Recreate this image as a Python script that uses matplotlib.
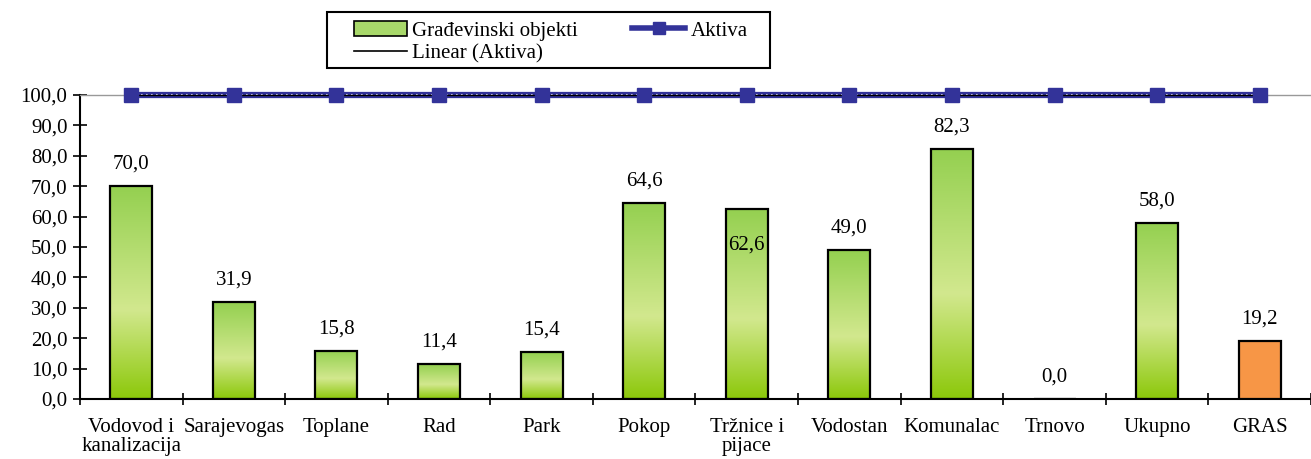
import matplotlib
matplotlib.use("Agg")
import matplotlib.pyplot as plt
import numpy as np
from matplotlib.colors import LinearSegmentedColormap
from matplotlib.patches import Patch, Rectangle
from matplotlib.lines import Line2D

categories = ["Vodovod i\nkanalizacija", "Sarajevogas", "Toplane", "Rad", "Park", "Pokop",
              "Tržnice i\npijace", "Vodostan", "Komunalac", "Trnovo", "Ukupno", "GRAS"]
gradjevinski = [70.0, 31.9, 15.8, 11.4, 15.4, 64.6, 62.6, 49.0, 82.3, 0.0, 58.0, 19.2]
aktiva = [100.0] * 12
yticks = [0, 10, 20, 30, 40, 50, 60, 70, 80, 90, 100]

FS = 15
plt.rcParams['font.family'] = ['Liberation Serif', 'DejaVu Serif']
fig = plt.figure(figsize=(13.11, 4.59), dpi=100)
ax = fig.add_axes([80/1311, 1-399/459, 1-80/1311, (399-95)/459])

x = np.arange(len(categories))
width = 0.41
grad = LinearSegmentedColormap.from_list("g", [(0, "#8CC80A"), (0.42, "#D2E88E"), (1.0, "#94D050")])
gradarr = np.linspace(0, 1, 256).reshape(-1, 1)

bars = ax.bar(x, gradjevinski, width, color="none", edgecolor="black", linewidth=1.6, zorder=3)
for i, b in enumerate(bars):
    h = b.get_height()
    if h <= 0:
        continue
    if categories[i] == "GRAS":
        b.set_facecolor("#F79646")
        continue
    x0 = b.get_x()
    im = ax.imshow(gradarr, cmap=grad, aspect="auto", origin="lower",
                   extent=[x0, x0 + width, 0, h], zorder=2)
    im.set_clip_path(b)

# data labels
for i, v in enumerate(gradjevinski):
    lbl = f"{v:.1f}".replace(".", ",")
    if categories[i].startswith("Tržnice"):
        ax.text(x[i], v - 11.9, lbl, ha="center", va="center", fontsize=FS, zorder=5)
    else:
        ax.text(x[i], v + 7.2, lbl, ha="center", va="center", fontsize=FS, zorder=5)

# Aktiva line
ax.plot(x, aktiva, color="#333399", linewidth=4.5, zorder=6, solid_capstyle="butt", clip_on=False)
ax.plot(x, aktiva, color="white", linewidth=1.2, linestyle=(0, (1, 2)), zorder=7, clip_on=False)
ax.plot(x, aktiva, marker="s", markersize=10, markerfacecolor="#333399",
        markeredgecolor="#333399", zorder=8, linestyle="none", clip_on=False)
# Linear trend of Aktiva
coef = np.polyfit(x, aktiva, 1)
ax.plot(x, np.polyval(coef, x), color="black", linewidth=1.0, zorder=7, clip_on=False)

ax.set_xlim(-0.5, 11.5)
ax.set_ylim(0, 100)
ax.set_yticks(yticks)
ax.set_yticklabels([f"{t:.1f}".replace(".", ",") for t in yticks], fontsize=FS)
ax.set_xticks(x)
ax.set_xticklabels(categories, fontsize=FS, linespacing=0.95)
ax.tick_params(axis="x", which="major", length=0, pad=14)
ax.set_xticks(np.arange(-0.5, 12, 1), minor=True)
ax.tick_params(axis="x", which="minor", direction="inout", length=9, width=1.2)
ax.tick_params(axis="y", direction="inout", length=10, width=1.2, pad=4)

for s in ["left", "bottom"]:
    ax.spines[s].set_linewidth(1.5)
    ax.spines[s].set_color("black")
ax.spines["top"].set_color("#999999")
ax.spines["top"].set_linewidth(1.0)
ax.spines["right"].set_visible(False)

handles = [Patch(facecolor="#A8D86A", edgecolor="black", linewidth=1.2),
           Line2D([0], [0], color="black", linewidth=1.2),
           Line2D([0], [0], color="#333399", linewidth=4, marker="s", markersize=9)]
labels = ["Građevinski objekti", "Linear (Aktiva)", "Aktiva"]
leg = fig.legend(handles, labels, ncol=2, loc="upper left",
                 bbox_to_anchor=(354/1311, 1-21/459), fontsize=FS, frameon=False,
                 borderpad=0, labelspacing=0.15, handlelength=2.55, handleheight=0.7,
                 handletextpad=0.25, columnspacing=2.6, borderaxespad=0)
fig.patches.append(Rectangle((327/1311, 1-68/459), (770-327)/1311, (68-12)/459,
                             transform=fig.transFigure, fill=False, edgecolor="black",
                             linewidth=1.5))

fig.savefig("out.png", dpi=100)
